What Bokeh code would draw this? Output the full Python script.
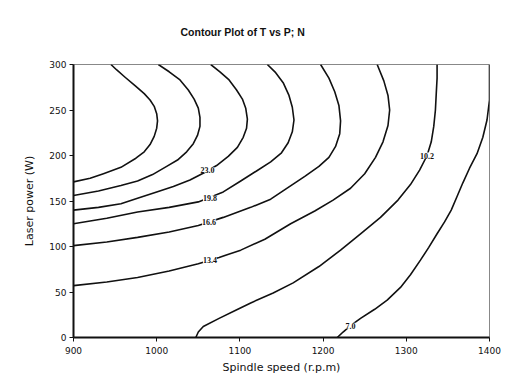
from bokeh.plotting import figure
from bokeh.models import ColumnDataSource, LabelSet, FixedTicker, Range1d
from bokeh.embed import file_html
from bokeh.resources import INLINE

# Contour levels
levels = [29.4, 26.2, 23.0, 19.8, 16.6, 13.4, 10.2, 7.0]

# Contour traces: spindle speed (r.p.m) and laser power (W)
c29_4_x = [900, 920, 936, 957, 975, 985, 992, 997, 1000, 1001, 1000, 997, 992, 985, 975, 962, 952, 945]
c29_4_y = [171, 175, 180, 187, 197, 204, 212, 221, 230, 238, 246, 254, 261, 268, 276, 286, 294, 300]

c26_2_x = [900, 930, 957, 977, 995, 1012, 1025, 1036, 1044, 1049, 1052, 1052, 1050, 1045, 1038, 1028, 1015, 1002]
c26_2_y = [156, 161, 167, 172, 179, 188, 195, 204, 213, 222, 232, 242, 252, 262, 272, 283, 292, 300]

c23_0_x = [900, 930, 957, 977, 1000, 1020, 1040, 1057, 1072, 1086, 1097, 1104, 1108, 1109, 1107, 1103, 1096, 1087, 1076, 1065]
c23_0_y = [140, 143, 147, 153, 160, 166, 173, 181, 189, 199, 209, 220, 230, 240, 252, 262, 272, 283, 292, 300]

c19_8_x = [900, 940, 977, 1015, 1050, 1080, 1101, 1120, 1137, 1150, 1158, 1163, 1165, 1163, 1159, 1152, 1143, 1133]
c19_8_y = [125, 131, 138, 143, 149, 160, 172, 183, 193, 203, 214, 226, 239, 253, 266, 280, 291, 300]

c16_6_x = [900, 940, 977, 1015, 1050, 1080, 1113, 1137, 1155, 1178, 1195, 1207, 1215, 1220, 1221, 1219, 1214, 1207, 1197]
c16_6_y = [101, 105, 110, 116, 123, 132, 143, 152, 163, 177, 188, 198, 210, 224, 238, 255, 270, 285, 300]

c13_4_x = [900, 940, 977, 1015, 1050, 1075, 1101, 1130, 1161, 1190, 1212, 1233, 1250, 1263, 1272, 1278, 1280, 1278, 1273, 1265]
c13_4_y = [57, 61, 66, 73, 81, 88, 96, 108, 125, 139, 151, 164, 180, 198, 215, 233, 250, 266, 282, 300]

c10_2_x = [1047, 1050, 1056, 1075, 1095, 1113, 1140, 1164, 1195, 1221, 1245, 1269, 1290, 1305, 1316, 1325, 1330, 1333, 1335, 1336, 1337, 1337]
c10_2_y = [0, 6, 12, 21, 30, 38, 49, 60, 78, 96, 114, 132, 151, 168, 184, 200, 215, 232, 250, 268, 285, 300]

c7_0_x = [1217, 1224, 1233, 1245, 1262, 1277, 1293, 1305, 1317, 1327, 1337, 1346, 1354, 1361, 1368, 1376, 1385, 1392, 1397, 1400, 1400]
c7_0_y = [0, 6, 13, 21, 31, 41, 55, 69, 85, 99, 114, 127, 140, 155, 170, 186, 202, 220, 239, 261, 300]

# Inline contour labels
label_text = ["23.0", "19.8", "16.6", "13.4", "10.2", "7.0"]
label_x = [1061, 1064, 1063, 1064, 1325, 1233]
label_y = [184, 153, 127, 85, 200, 13]

x_ticks = [900, 1000, 1100, 1200, 1300, 1400]
y_ticks = [0, 50, 100, 150, 200, 250, 300]

p = figure(width=518, height=388, output_backend="svg", toolbar_location=None,
           x_range=Range1d(900, 1400), y_range=Range1d(0, 300),
           min_border_left=73, min_border_right=29, min_border_top=64, min_border_bottom=51)

p.title.text = "Contour Plot of T vs P; N"
p.title.text_font = "Liberation Sans"
p.title.text_font_size = "10.5px"
p.title.text_font_style = "bold"
p.title.align = "left"
p.title.vertical_align = "top"
p.title.offset = 107
p.title.standoff = 49
p.title.text_color = "#111111"

p.xgrid.visible = False
p.ygrid.visible = False
p.outline_line_color = "#888888"
p.outline_line_width = 1
p.background_fill_color = "white"
p.border_fill_color = "white"

for ax in (p.xaxis[0], p.yaxis[0]):
    ax.axis_line_color = "#111111"
    ax.axis_line_width = 2
    ax.major_tick_line_color = "#111111"
    ax.major_tick_in = 0
    ax.major_tick_out = 4
    ax.minor_tick_line_color = None
    ax.major_label_text_font = "DejaVu Sans"
    ax.major_label_text_font_size = "9px"
    ax.major_label_text_color = "#111111"
    ax.axis_label_text_font = "DejaVu Sans"
    ax.axis_label_text_font_size = "11px"
    ax.axis_label_text_font_style = "normal"
    ax.axis_label_text_color = "#111111"

p.xaxis[0].ticker = FixedTicker(ticks=x_ticks)
p.yaxis[0].ticker = FixedTicker(ticks=y_ticks)
p.xaxis[0].axis_label = "Spindle speed (r.p.m)"
p.yaxis[0].axis_label = "Laser power (W)"
p.xaxis[0].major_label_standoff = 5
p.xaxis[0].axis_label_standoff = 4
p.yaxis[0].major_label_standoff = 3
p.yaxis[0].axis_label_standoff = 10

contours = [(c29_4_x, c29_4_y), (c26_2_x, c26_2_y), (c23_0_x, c23_0_y),
            (c19_8_x, c19_8_y), (c16_6_x, c16_6_y), (c13_4_x, c13_4_y),
            (c10_2_x, c10_2_y), (c7_0_x, c7_0_y)]
for cx, cy in contours:
    p.line(cx, cy, line_color="#111111", line_width=1.6, line_join="round")

src = ColumnDataSource(dict(x=label_x, y=label_y, t=label_text))
labels = LabelSet(x="x", y="y", text="t", source=src, text_font="Liberation Sans",
                  text_font_size="8px", text_font_style="bold", text_align="center",
                  text_baseline="middle", text_color="#111111",
                  background_fill_color="white", background_fill_alpha=1.0)
p.add_layout(labels)

open("out.html", "w").write(file_html(p, INLINE))
